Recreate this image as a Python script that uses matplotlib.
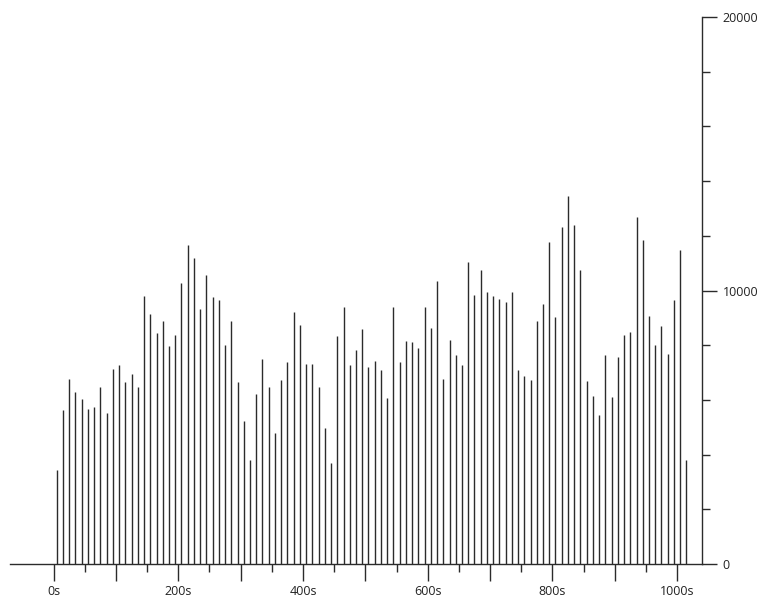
import numpy as np
import matplotlib
matplotlib.use("Agg")
import matplotlib.pyplot as plt
from matplotlib.ticker import FixedLocator, MultipleLocator, FuncFormatter

# one bin every 10 s, centre of bin
tider = np.arange(5, 1020, 10)
verdier = [
    3450, 5640, 6780, 6280, 6045, 5680, 5725, 6460, 5505, 7145,
    7280, 6640, 6960, 6460, 9800, 9150, 8430, 8890, 7975, 8380,
    10265, 11680, 11180, 9310, 10580, 9750, 9665, 8010, 8890, 6640,
    5235, 3815, 6200, 7510, 6470, 4780, 6740, 7390, 9210, 8745,
    7330, 7330, 6470, 4955, 3680, 8340, 9385, 7290, 7830, 8575,
    7205, 7415, 7110, 6055, 9385, 7390, 8160, 8100, 7880, 9385,
    8615, 10350, 6780, 8195, 7645, 7280, 11035, 9850, 10765, 9945,
    9810, 9700, 9570, 9935, 7095, 6860, 6730, 8890, 9515, 11770,
    9015, 12340, 13460, 12395, 10765, 6690, 6140, 5455, 7645, 6090,
    7560, 8380, 8480, 12670, 11855, 9075, 8025, 8700, 7660, 9665,
    11490, 3805,
]

farge = "#2b2b2b"

fig = plt.figure(figsize=(7.59, 5.99), dpi=100)
ax = fig.add_axes([10 / 759, 1 - 564 / 599, 692 / 759, 547 / 599])

ax.vlines(tider, 0, verdier, colors=farge, linewidth=1.0)

ax.set_xlim(-70, 1040)
ax.set_ylim(0, 20000)

for s in ["top", "left"]:
    ax.spines[s].set_visible(False)
for s in ["bottom", "right"]:
    ax.spines[s].set_color(farge)
    ax.spines[s].set_linewidth(1.0)

ax.yaxis.tick_right()
ax.xaxis.set_major_locator(FixedLocator(np.arange(0, 1001, 100)))
ax.xaxis.set_minor_locator(FixedLocator(np.arange(50, 1000, 100)))
ax.xaxis.set_major_formatter(FuncFormatter(lambda v, p: "%ds" % v if v % 200 == 0 else ""))
ax.yaxis.set_major_locator(MultipleLocator(10000))
ax.yaxis.set_minor_locator(MultipleLocator(2000))
ax.yaxis.set_major_formatter(FuncFormatter(lambda v, p: "%d" % v))

ax.tick_params(axis="x", which="major", length=12, width=1, color=farge, pad=3,
               labelsize=9, labelcolor="#222222")
ax.tick_params(axis="x", which="minor", length=6, width=1, color=farge)
ax.tick_params(axis="y", which="major", length=11, width=1, color=farge, pad=4,
               labelsize=9, labelcolor="#222222")
ax.tick_params(axis="y", which="minor", length=6, width=1, color=farge)

for lab in ax.get_xticklabels() + ax.get_yticklabels():
    lab.set_family(["Open Sans", "DejaVu Sans"])

fig.savefig("out.png", dpi=100)
